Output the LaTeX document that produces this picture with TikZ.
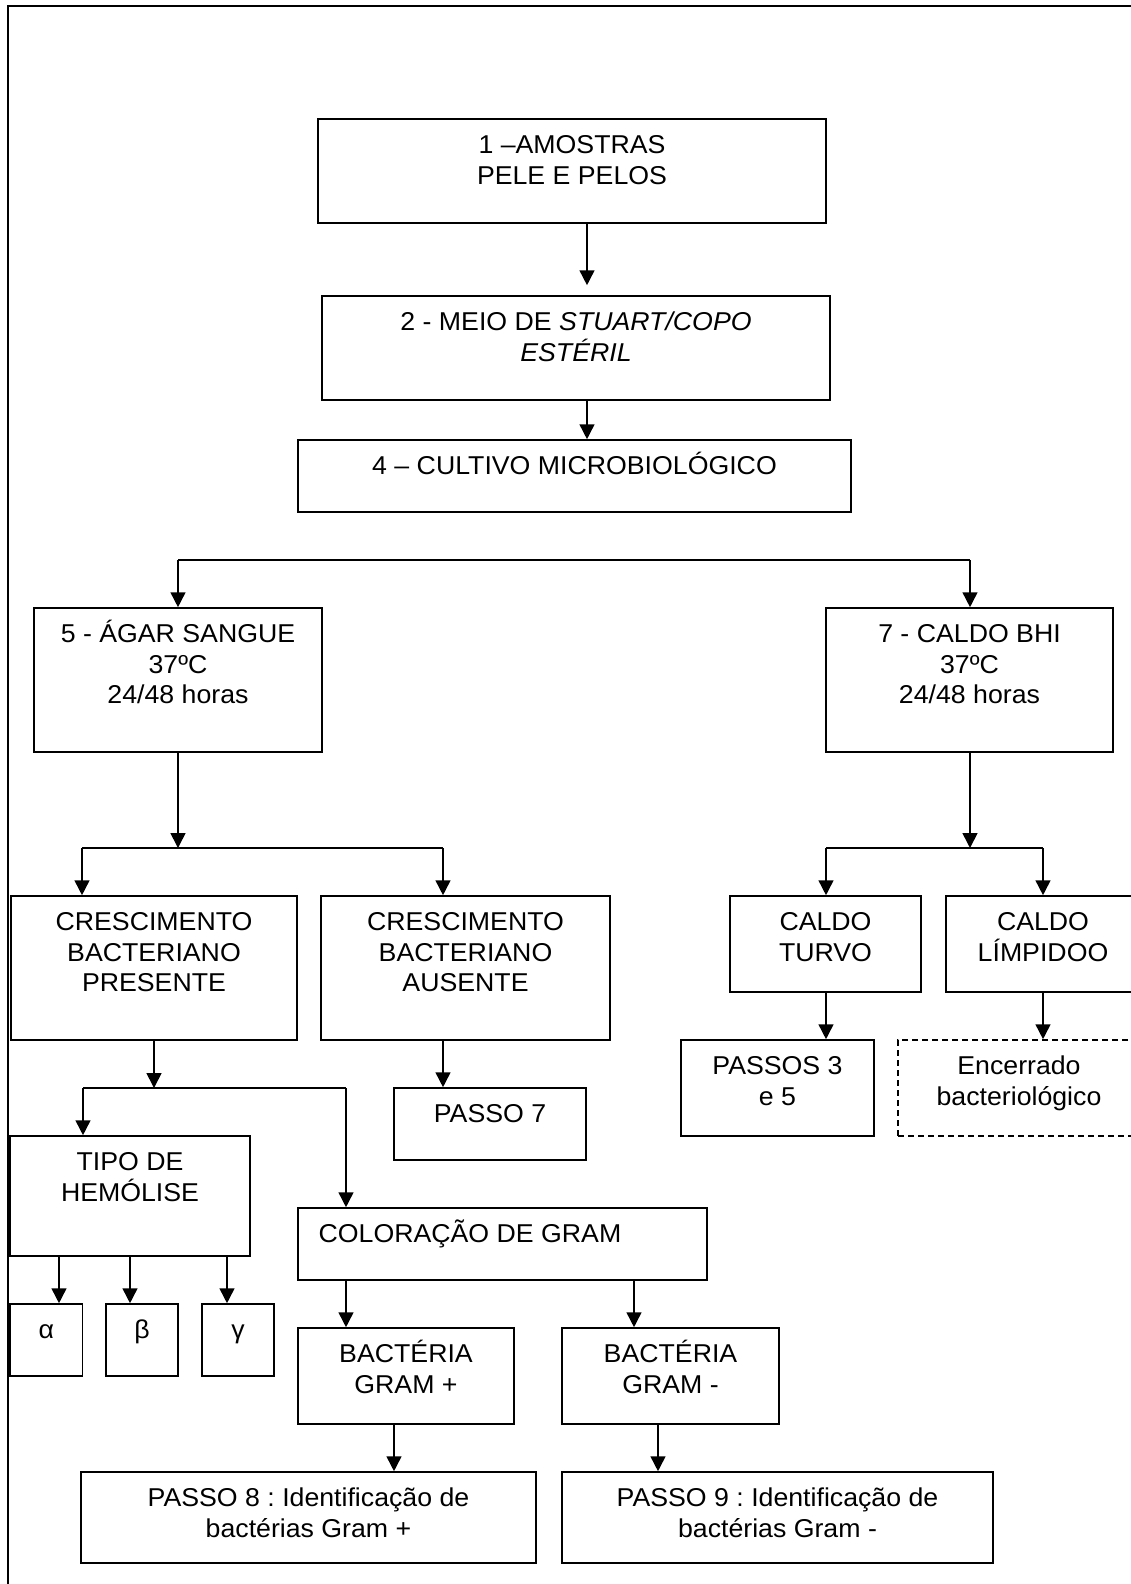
\documentclass[tikz,border=0pt]{standalone}
\usepackage{fontspec}
\setmainfont{Liberation Sans}[FakeStretch=1.035]
\usetikzlibrary{fit,arrows.meta}
\newcommand\tstr{\rule{0pt}{12.5pt}}
\frenchspacing
\begin{document}
\frenchspacing
\begin{tikzpicture}[x=0.5pt,y=-0.5pt,
  boxst/.style={draw, line width=0.8pt, inner sep=0pt},
  dbox/.style={boxst, dash pattern=on 3pt off 2pt},
  txt/.style={inner sep=0pt, align=center, font=\fontsize{12.9}{15.3}\selectfont},
  arr/.style={line width=0.8pt, -{Triangle[width=7.4pt,length=7.4pt]}},
  ln/.style={line width=0.8pt},
  frame/.style={line width=1.1pt}]
\useasboundingbox (0,0) rectangle (1130,1584);
% outer frame (only top and left visible)
\draw[frame] (1140,6) -- (8.3,6) -- (8.3,1600);

% boxes
\node[boxst, fit={(318,119) (826,223)}] (b1) {};
\node[boxst, fit={(322,296) (830,400)}] (b2) {};
\node[boxst, fit={(298,440) (851,512)}] (b4) {};
\node[boxst, fit={(34,608) (322,752)}] (b5) {};
\node[boxst, fit={(826,608) (1113,752)}] (b7) {};
\node[boxst, fit={(11,896) (297,1040)}] (pres) {};
\node[boxst, fit={(321,896) (610,1040)}] (aus) {};
\node[boxst, fit={(730,896) (921,992)}] (turvo) {};
\node[boxst, fit={(946,896) (1140,992)}] (limp) {};
\node[boxst, fit={(681,1040) (874,1136)}] (passos) {};
\node[dbox, fit={(898,1040) (1140,1136)}] (enc) {};
\node[boxst, fit={(394,1088) (586,1160)}] (p7) {};
\node[boxst, fit={(10,1136) (250,1256)}] (tipo) {};
\node[boxst, fit={(298,1208) (707,1280)}] (col) {};
\node[boxst, fit={(10,1304) (82.6,1376)}] (alfa) {};
\node[boxst, fit={(106,1304) (178,1376)}] (beta) {};
\node[boxst, fit={(202,1304) (274,1376)}] (gama) {};
\node[boxst, fit={(298,1328) (514,1424)}] (gpos) {};
\node[boxst, fit={(562,1328) (779,1424)}] (gneg) {};
\node[boxst, fit={(81,1472) (536,1563)}] (p8) {};
\node[boxst, fit={(562,1472) (993,1563)}] (p9) {};

% texts
\node[txt, anchor=north] (b1t) at ([yshift=-5pt]b1.north) {\tstr 1 –AMOSTRAS\\PELE E PELOS};
\node[txt, anchor=north] (b2t) at ([yshift=-5pt]b2.north) {\tstr 2 - MEIO DE \textit{STUART/COPO}\\\textit{ESTÉRIL}};
\node[txt, anchor=north] (b4t) at ([yshift=-5pt]b4.north) {\tstr 4 – CULTIVO MICROBIOLÓGICO};
\node[txt, anchor=north] (b5t) at ([yshift=-5pt]b5.north) {\tstr 5 - ÁGAR SANGUE\\37ºC\\24/48 horas};
\node[txt, anchor=north] (b7t) at ([yshift=-5pt]b7.north) {\tstr 7 - CALDO BHI\\37ºC\\24/48 horas};
\node[txt, anchor=north] (prest) at ([yshift=-5pt]pres.north) {\tstr CRESCIMENTO\\BACTERIANO\\PRESENTE};
\node[txt, anchor=north] (aust) at ([yshift=-5pt]aus.north) {\tstr CRESCIMENTO\\BACTERIANO\\AUSENTE};
\node[txt, anchor=north] (turvot) at ([yshift=-5pt]turvo.north) {\tstr CALDO\\TURVO};
\node[txt, anchor=north] (limpt) at ([yshift=-5pt]limp.north) {\tstr CALDO\\LÍMPIDOO};
\node[txt, anchor=north] (passost) at ([yshift=-5pt]passos.north) {\tstr PASSOS 3\\e 5};
\node[txt, anchor=north] (enct) at ([yshift=-5pt]enc.north) {\tstr Encerrado\\bacteriológico};
\node[txt, anchor=north] (p7t) at ([yshift=-5pt]p7.north) {\tstr PASSO 7};
\node[txt, anchor=north] (tipot) at ([yshift=-5pt]tipo.north) {\tstr TIPO DE\\HEMÓLISE};
\node[txt, anchor=north west] (colt) at ([xshift=10.5pt,yshift=-5pt]col.north west) {\tstr COLORAÇÃO DE GRAM};
\node[txt, anchor=north] (alfat) at ([yshift=-5pt]alfa.north) {\tstr α};
\node[txt, anchor=north] (betat) at ([yshift=-5pt]beta.north) {\tstr β};
\node[txt, anchor=north] (gamat) at ([yshift=-5pt]gama.north) {\tstr γ};
\node[txt, anchor=north] (gpost) at ([yshift=-5pt]gpos.north) {\tstr BACTÉRIA\\GRAM +};
\node[txt, anchor=north] (gnegt) at ([yshift=-5pt]gneg.north) {\tstr BACTÉRIA\\GRAM -};
\node[txt, anchor=north] (p8t) at ([yshift=-5pt]p8.north) {\tstr PASSO 8 : Identificação de\\bactérias Gram +};
\node[txt, anchor=north] (p9t) at ([yshift=-5pt]p9.north) {\tstr PASSO 9 : Identificação de\\bactérias Gram -};

% junction coordinates
\coordinate (x587) at (587,0);
\coordinate (jtop) at (178,560);
\coordinate (jtopr) at (970,560);
\coordinate (jl) at (178,848);
\coordinate (jll) at (82,848);
\coordinate (jlr) at (443,848);
\coordinate (jr) at (970,848);
\coordinate (jrl) at (826,848);
\coordinate (jrr) at (1043,848);
\coordinate (jp) at (154,1088);
\coordinate (jpl) at (83,1088);
\coordinate (jpr) at (346,1088);
\coordinate (xa) at (59,0);
\coordinate (xb) at (130,0);
\coordinate (xg) at (227,0);
\coordinate (xgn) at (634,0);
\coordinate (xp8) at (394,0);
\coordinate (xp9) at (658,0);

% connectors
\draw[arr, shorten >=5pt] (b1.south -| x587) -- (b2.north -| x587);
\draw[arr] (b2.south -| x587) -- (b4.north -| x587);

\draw[ln] (jtop) -- (jtopr);
\draw[arr] (jtop) -- (jtop |- b5.north);
\draw[arr] (jtopr) -- (jtopr |- b7.north);

\draw[arr] (b5.south -| jl) -- (jl);
\draw[ln] (jll) -- (jlr);
\draw[arr] (jll) -- (jll |- pres.north);
\draw[arr] (jlr) -- (jlr |- aus.north);

\draw[arr] (b7.south -| jr) -- (jr);
\draw[ln] (jrl) -- (jrr);
\draw[arr] (jrl) -- (jrl |- turvo.north);
\draw[arr] (jrr) -- (jrr |- limp.north);

\draw[arr] (turvo.south -| jrl) -- (jrl |- passos.north);
\draw[arr] (limp.south -| jrr) -- (jrr |- enc.north);

\draw[arr] (pres.south -| jp) -- (jp);
\draw[ln] (jpl) -- (jpr);
\draw[arr] (jpl) -- (jpl |- tipo.north);
\draw[arr] (jpr) -- (jpr |- col.north);
\draw[arr] (aus.south -| jlr) -- (jlr |- p7.north);

\draw[arr] (tipo.south -| xa) -- (alfa.north -| xa);
\draw[arr] (tipo.south -| xb) -- (beta.north -| xb);
\draw[arr] (tipo.south -| xg) -- (gama.north -| xg);

\draw[arr] (col.south -| jpr) -- (jpr |- gpos.north);
\draw[arr] (col.south -| xgn) -- (gneg.north -| xgn);

\draw[arr] (gpos.south -| xp8) -- (p8.north -| xp8);
\draw[arr] (gneg.south -| xp9) -- (p9.north -| xp9);
\end{tikzpicture}
\end{document}
